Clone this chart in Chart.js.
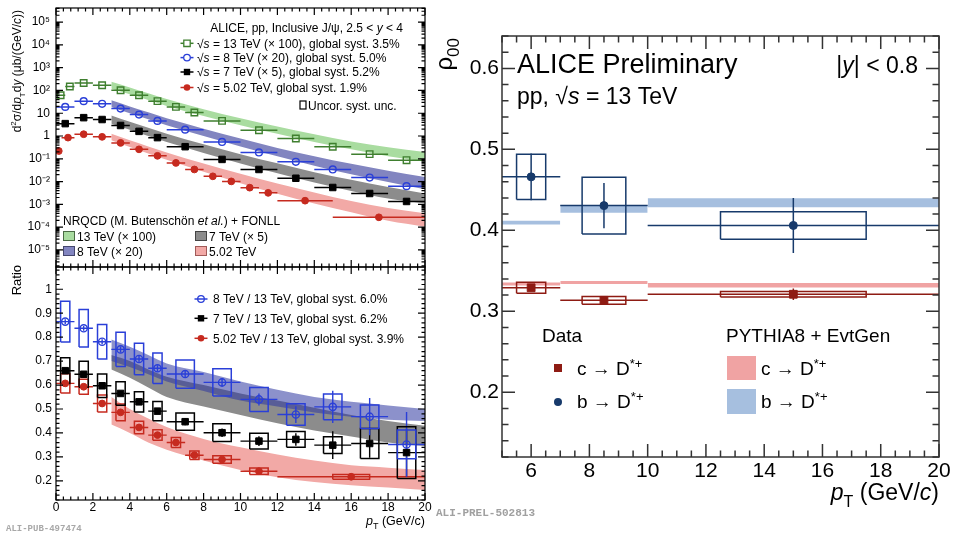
<!DOCTYPE html>
<html>
<head>
<meta charset="utf-8">
<script src="https://cdn.jsdelivr.net/npm/chart.js@4.4.1/dist/chart.umd.min.js"></script>
<style>
  html, body { margin: 0; padding: 0; background: #fff; }
  body { width: 959px; height: 534px; position: relative; overflow: hidden; }
  canvas { position: absolute; }
  #cA { left: 0; top: 0; }
  #cB { left: 0; top: 262px; }
  #cC { left: 425px; top: 0; }
</style>
</head>
<body>
<canvas id="cA" width="440" height="270"></canvas>
<canvas id="cB" width="440" height="272"></canvas>
<canvas id="cC" width="534" height="534"></canvas>
<script>
const FONT = "'Liberation Sans', Arial, Helvetica, sans-serif";

// ---------- top left: J/psi cross sections (scaled) ----------
const pt13 = [0.25, 0.75, 1.5, 2.5, 3.5, 4.5, 5.5, 6.5, 7.5, 9, 11, 13, 15, 17, 19];
const dpt13 = [0.25, 0.25, 0.5, 0.5, 0.5, 0.5, 0.5, 0.5, 0.5, 1, 1, 1, 1, 1, 1];
const xs13 = [62, 150, 213, 170, 102, 62, 34, 19, 10.7, 4.6, 1.8, 0.78, 0.34, 0.16, 0.087];
const pt8 = [0.5, 1.5, 2.5, 3.5, 4.5, 5.5, 7, 9, 11, 13, 15, 17, 19];
const dpt8 = [0.5, 0.5, 0.5, 0.5, 0.5, 0.5, 1, 1, 1, 1, 1, 1, 1];
const xs8 = [19, 34, 26, 16, 8.7, 4.6, 1.9, 0.55, 0.19, 0.074, 0.034, 0.015, 0.0063];
const xs7 = [3.5, 6.4, 5.3, 2.9, 1.6, 0.85, 0.34, 0.094, 0.034, 0.014, 0.0055, 0.003, 0.00134];
const pt5 = [0.15, 0.65, 1.5, 2.5, 3.5, 4.5, 5.5, 6.5, 7.5, 8.5, 9.5, 10.5, 11.5, 13.5, 17.5];
const dpt5 = [0.15, 0.35, 0.5, 0.5, 0.5, 0.5, 0.5, 0.5, 0.5, 0.5, 0.5, 0.5, 0.5, 1.5, 2.5];
const xs5 = [0.22, 0.85, 1.2, 0.92, 0.5, 0.26, 0.135, 0.066, 0.034, 0.017, 0.0102, 0.0054, 0.0032, 0.00145, 0.00027];

// NRQCD + FONLL bands
const bandPt = [3, 4, 5, 6, 8, 10, 12, 14, 16, 18, 20];
const nrqcd13Lo = [120, 68, 38, 21, 7.5, 3.0, 1.25, 0.55, 0.26, 0.13, 0.074];
const nrqcd13Hi = [240, 135, 75, 42, 15, 6.0, 2.6, 1.2, 0.58, 0.32, 0.2];
const nrqcd8Lo = [19, 10, 5.5, 3, 1.0, 0.35, 0.13, 0.05, 0.021, 0.0095, 0.0046];
const nrqcd8Hi = [37, 20, 11, 6, 2.1, 0.78, 0.3, 0.13, 0.06, 0.03, 0.016];
const nrqcd7Lo = [3.5, 1.9, 1.0, 0.55, 0.18, 0.062, 0.023, 0.009, 0.0039, 0.0018, 0.0011];
const nrqcd7Hi = [8, 4.2, 2.3, 1.25, 0.43, 0.16, 0.063, 0.026, 0.012, 0.0058, 0.003];
const nrqcd5Lo = [0.66, 0.33, 0.17, 0.09, 0.027, 0.0085, 0.0029, 0.0011, 0.00045, 0.00019, 0.000105];
const nrqcd5Hi = [1.26, 0.65, 0.35, 0.19, 0.062, 0.022, 0.0082, 0.0033, 0.0014, 0.0007, 0.00041];
const logTicks = [1e-5, 1e-4, 1e-3, 1e-2, 1e-1, 1, 10, 100, 1e3, 1e4, 1e5];

// ---------- bottom left: ratios to 13 TeV ----------
const rPt = [0.5, 1.5, 2.5, 3.5, 4.5, 5.5, 7, 9, 11, 13, 15, 17, 19];
const rDpt = [0.5, 0.5, 0.5, 0.5, 0.5, 0.5, 1, 1, 1, 1, 1, 1, 1];
const rBoxW = [0.25, 0.25, 0.25, 0.25, 0.25, 0.25, 0.5, 0.5, 0.5, 0.5, 0.5, 0.5, 0.5];
const r8 = [0.865, 0.837, 0.781, 0.749, 0.709, 0.670, 0.646, 0.611, 0.540, 0.477, 0.509, 0.468, 0.352];
const r8Stat = [0.01, 0.01, 0.01, 0.012, 0.012, 0.013, 0.015, 0.018, 0.025, 0.035, 0.067, 0.078, 0.135];
const r8Sys = [0.085, 0.078, 0.072, 0.071, 0.066, 0.064, 0.059, 0.057, 0.05, 0.045, 0.054, 0.049, 0.06];
const r7 = [0.66, 0.645, 0.597, 0.565, 0.53, 0.491, 0.447, 0.401, 0.366, 0.373, 0.349, 0.356, 0.318];
const r7Stat = [0.01, 0.01, 0.01, 0.01, 0.01, 0.012, 0.015, 0.018, 0.02, 0.026, 0.058, 0.06, 0.1];
const r7Sys = [0.054, 0.054, 0.049, 0.049, 0.042, 0.04, 0.036, 0.037, 0.033, 0.033, 0.035, 0.063, 0.108];
const r5Pt = [0.5, 1.5, 2.5, 3.5, 4.5, 5.5, 6.5, 7.5, 9, 11, 16];
const r5Dpt = [0.5, 0.5, 0.5, 0.5, 0.5, 0.5, 0.5, 0.5, 1, 1, 4];
const r5BoxW = [0.25, 0.25, 0.25, 0.25, 0.25, 0.25, 0.25, 0.25, 0.5, 0.5, 1];
const r5 = [0.607, 0.593, 0.523, 0.486, 0.423, 0.391, 0.36, 0.307, 0.289, 0.24, 0.217];
const r5Stat = [0.006, 0.006, 0.006, 0.006, 0.007, 0.007, 0.008, 0.008, 0.008, 0.01, 0.01];
const r5Sys = [0.04, 0.031, 0.035, 0.035, 0.026, 0.022, 0.021, 0.018, 0.016, 0.014, 0.01];
const ratio8Lo = [0.70, 0.675, 0.645, 0.615, 0.575, 0.535, 0.51, 0.485, 0.468, 0.455, 0.45];
const ratio8Hi = [0.79, 0.76, 0.725, 0.69, 0.655, 0.615, 0.58, 0.55, 0.53, 0.515, 0.50];
const ratio7Lo = [0.665, 0.63, 0.59, 0.55, 0.51, 0.475, 0.44, 0.41, 0.385, 0.36, 0.345];
const ratio7Hi = [0.725, 0.70, 0.665, 0.635, 0.60, 0.565, 0.535, 0.505, 0.475, 0.45, 0.43];
const ratio5Lo = [0.435, 0.40, 0.36, 0.33, 0.285, 0.245, 0.215, 0.195, 0.182, 0.172, 0.162];
const ratio5Hi = [0.55, 0.50, 0.46, 0.425, 0.375, 0.34, 0.31, 0.285, 0.265, 0.255, 0.245];
const ratioTicks = [0.2, 0.3, 0.4, 0.5, 0.6, 0.7, 0.8, 0.9, 1];
const ptTicks = [0, 2, 4, 6, 8, 10, 12, 14, 16, 18, 20];

// ---------- right: rho00 of D*+ ----------
const rhoPt = [6, 8.5, 15];
const rhoBinLo = [5, 7, 10];
const rhoBinHi = [7, 10, 20];
const rhoDpt = [1, 1.5, 5];
const rhoBoxW = [0.5, 0.75, 2.5];
const rhoC = [0.329, 0.3135, 0.321];
const rhoCStat = [0.004, 0.004, 0.007];
const rhoCSys = [0.0068, 0.0047, 0.0033];
const rhoB = [0.466, 0.4305, 0.406];
const rhoBStat = [0.029, 0.028, 0.034];
const rhoBSys = [0.028, 0.035, 0.017];
const pythiaCLo = [0.3318, 0.3338, 0.3294];
const pythiaCHi = [0.3355, 0.3375, 0.335];
const pythiaBLo = [0.4073, 0.4216, 0.4286];
const pythiaBHi = [0.4118, 0.4314, 0.4396];
const rhoTicks = [0.2, 0.3, 0.4, 0.5, 0.6];
const rhoPtTicks = [6, 8, 10, 12, 14, 16, 18, 20];

// colours
const C13 = '#3f7f2f', B13 = '#a9dca0';
const C8 = '#2a3fd8', B8 = '#8285c0', B8R = 'rgba(45,55,160,0.55)';
const C7 = '#000000', B7 = '#8c8c8c';
const C5 = '#c62a1f', B5 = '#f2a9a6';
const CC = '#8e1b13', CB = '#173a6b', PC = '#f0a3a3', PB = '#a6bfdf';

// ---------- helpers ----------
const gap = x => ({ x, y: null });
const pts = (xs, ys) => xs.map((x, i) => ({ x, y: ys[i] }));
function hBars(xs, ys, dx) {
  const d = [];
  xs.forEach((x, i) => d.push({ x: x - dx[i], y: ys[i] }, { x: x + dx[i], y: ys[i] }, gap(x)));
  return d;
}
function vBars(xs, ys, e) {
  const d = [];
  xs.forEach((x, i) => d.push({ x, y: ys[i] - e[i] }, { x, y: ys[i] + e[i] }, gap(x)));
  return d;
}
function boxes(xs, ys, w, h) {
  const d = [];
  xs.forEach((x, i) => {
    const y = ys[i];
    d.push({ x: x - w[i], y: y - h[i] }, { x: x + w[i], y: y - h[i] }, { x: x + w[i], y: y + h[i] },
           { x: x - w[i], y: y + h[i] }, { x: x - w[i], y: y - h[i] }, gap(x));
  });
  return d;
}
function seg(data, color, width, order) {
  return { data, borderColor: color, borderWidth: width, pointRadius: 0, fill: false,
           spanGaps: false, order, borderJoinStyle: 'miter', borderCapStyle: 'butt' };
}
function mark(data, style, r, color, open) {
  return { data, showLine: false, pointStyle: style, pointRadius: r, order: 1,
           pointBackgroundColor: open ? 'rgba(0,0,0,0)' : color,
           pointBorderColor: color, pointBorderWidth: open ? 1.4 : 1 };
}
function band(xs, lo, hi, color, order, smooth) {
  const base = { borderWidth: 0, borderColor: 'transparent', pointRadius: 0, order,
                 cubicInterpolationMode: smooth ? 'monotone' : 'default' };
  return [
    Object.assign({ data: pts(xs, lo), fill: false }, base),
    Object.assign({ data: pts(xs, hi), fill: '-1', backgroundColor: color }, base)
  ];
}

const SUP = { '-': '⁻', '0': '⁰', '1': '¹', '2': '²', '3': '³', '4': '⁴', '5': '⁵', '6': '⁶', '7': '⁷', '8': '⁸', '9': '⁹' };
function logLabel(v) {
  const e = Math.round(Math.log10(v));
  if (e === 0) return '1';
  if (e === 1) return '10';
  return '10' + String(e).split('').map(c => SUP[c]).join('');
}
const plainLabel = v => String(Math.round(v * 100) / 100);

function rich(ctx, parts, x, y, size, align, color) {
  const items = parts.map(p => (typeof p === 'string' ? { t: p } : Object.assign({}, p)));
  const fontOf = p => (p.i ? 'italic ' : '') + ((p.sub || p.sup) ? Math.round(size * 0.7) : size) + 'px ' + FONT;
  let w = 0;
  for (const p of items) { ctx.font = fontOf(p); p.w = ctx.measureText(p.t).width; w += p.w; }
  let cx = align === 'right' ? x - w : align === 'center' ? x - w / 2 : x;
  ctx.save();
  ctx.fillStyle = color || '#000';
  ctx.textAlign = 'left';
  ctx.textBaseline = 'alphabetic';
  for (const p of items) {
    ctx.font = fontOf(p);
    ctx.fillText(p.t, cx, y + (p.sub ? size * 0.3 : p.sup ? -size * 0.38 : 0));
    cx += p.w;
  }
  ctx.restore();
}
function richUp(ctx, parts, x, y, size) {
  ctx.save();
  ctx.translate(x, y);
  ctx.rotate(-Math.PI / 2);
  rich(ctx, parts, 0, 0, size, 'right');
  ctx.restore();
}
function drawMark(ctx, style, x, y, r, color, open, half, whiteFill) {
  ctx.save();
  ctx.strokeStyle = color; ctx.fillStyle = color; ctx.lineWidth = 1.5;
  if (half) { ctx.beginPath(); ctx.moveTo(x - half, y); ctx.lineTo(x + half, y); ctx.stroke(); }
  ctx.beginPath();
  if (style === 'rect') ctx.rect(x - r, y - r, 2 * r, 2 * r); else ctx.arc(x, y, r, 0, 2 * Math.PI);
  if (open) {
    if (whiteFill) { ctx.fillStyle = '#fff'; ctx.fill(); }
    ctx.lineWidth = 1.3; ctx.stroke();
  } else ctx.fill();
  ctx.restore();
}
function legendBox(ctx, x, y, w, h, fill, edge) {
  ctx.save();
  ctx.fillStyle = fill; ctx.fillRect(x, y, w, h);
  ctx.strokeStyle = edge; ctx.lineWidth = 1; ctx.strokeRect(x + 0.5, y + 0.5, w - 1, h - 1);
  ctx.restore();
}

// ROOT-like frame with inward ticks on all four sides
function tickValues(s, minor, major) {
  const out = [];
  const n0 = Math.ceil(s.min / minor - 1e-6), n1 = Math.floor(s.max / minor + 1e-6);
  for (let n = n0; n <= n1; n++) {
    const v = n * minor, k = v / major;
    out.push([v, Math.abs(k - Math.round(k)) < 1e-6]);
  }
  return out;
}
function logTickValues(s) {
  const out = [];
  for (let e = Math.floor(Math.log10(s.min)); e <= Math.ceil(Math.log10(s.max)); e++)
    for (let m = 1; m <= 9; m++) {
      const v = m * Math.pow(10, e);
      if (v >= s.min && v <= s.max) out.push([v, m === 1]);
    }
  return out;
}
const frameTicks = {
  id: 'frameTicks',
  afterDatasetsDraw(chart, args, o) {
    const { ctx, chartArea: a } = chart;
    const xs = chart.scales.x, ys = chart.scales.y;
    ctx.save();
    ctx.strokeStyle = o.color;
    ctx.lineWidth = o.width;
    ctx.beginPath();
    for (const [v, major] of tickValues(xs, o.xMinor, o.xMajor)) {
      const p = xs.getPixelForValue(v), L = major ? o.len : o.len / 2;
      ctx.moveTo(p, a.bottom); ctx.lineTo(p, a.bottom - L);
      ctx.moveTo(p, a.top); ctx.lineTo(p, a.top + L);
    }
    const yt = o.log ? logTickValues(ys) : tickValues(ys, o.yMinor, o.yMajor);
    for (const [v, major] of yt) {
      const p = ys.getPixelForValue(v), L = major ? o.len : o.len / 2;
      ctx.moveTo(a.left, p); ctx.lineTo(a.left + L, p);
      ctx.moveTo(a.right, p); ctx.lineTo(a.right - L, p);
    }
    ctx.stroke();
    ctx.strokeRect(a.left, a.top, a.right - a.left, a.bottom - a.top);
    ctx.restore();
  }
};

function baseOptions(pad) {
  return {
    responsive: false, animation: false, events: [],
    layout: { padding: pad, autoPadding: false }
  };
}
function fixedTicks(vals) { return s => { s.ticks = vals.map(v => ({ value: v })); }; }
function fitY(w) { return s => { s.width = w; s.paddingTop = 0; s.paddingBottom = 0; }; }
function fitX(h) { return s => { s.height = h; s.paddingLeft = 0; s.paddingRight = 0; }; }

// ---------- chart A: cross sections ----------
const textA = {
  id: 'textA',
  afterDraw(chart) {
    const ctx = chart.ctx;
    richUp(ctx, ['d', { t: '2', sup: 1 }, 'σ/d', { t: 'p', i: 1 }, { t: 'T', sub: 1 }, 'd', { t: 'y', i: 1 },
                 ' (μb/(GeV/', { t: 'c', i: 1 }, '))'], 21, 10, 12);
    rich(ctx, ['ALICE, pp, Inclusive J/ψ, 2.5 < ', { t: 'y', i: 1 }, ' < 4'], 403, 32, 12, 'right');
    const rows = [
      [43.3, 'rect', true, C13, ' = 13 TeV (× 100), global syst. 3.5%'],
      [57.6, 'circle', true, C8, ' = 8 TeV (× 20), global syst. 5.0%'],
      [72, 'rect', false, C7, ' = 7 TeV (× 5), global syst. 5.2%'],
      [87.5, 'circle', false, C5, ' = 5.02 TeV, global syst. 1.9%']
    ];
    for (const [y, st, open, c, txt] of rows) {
      drawMark(ctx, st, 187, y, st === 'rect' ? 3.2 : 3.3, c, open, 6.5, true);
      rich(ctx, ['√', { t: 's', i: 1 }, txt], 197, y + 4.3, 12, 'left');
    }
    ctx.save(); ctx.strokeStyle = '#000'; ctx.lineWidth = 1.2;
    ctx.strokeRect(300, 101, 6, 8); ctx.restore();
    rich(ctx, ['Uncor. syst. unc.'], 308, 109.5, 12, 'left');

    rich(ctx, ['NRQCD (M. Butenschön ', { t: 'et al.', i: 1 }, ') + FONLL'], 63, 224.5, 12, 'left');
    legendBox(ctx, 63, 231, 12, 10, B13, '#4a6a44');
    rich(ctx, ['13 TeV (× 100)'], 77, 240.5, 12, 'left');
    legendBox(ctx, 63, 246, 12, 10, B8, '#45476e');
    rich(ctx, ['8 TeV (× 20)'], 77, 255.5, 12, 'left');
    legendBox(ctx, 195, 231, 12, 10, B7, '#444');
    rich(ctx, ['7 TeV (× 5)'], 209, 240.5, 12, 'left');
    legendBox(ctx, 195, 246, 12, 10, B5, '#a05a58');
    rich(ctx, ['5.02 TeV'], 209, 255.5, 12, 'left');
  }
};

new Chart(document.getElementById('cA'), {
  type: 'line',
  data: {
    datasets: [
      ...band(bandPt, nrqcd13Lo, nrqcd13Hi, B13, 5, true),
      ...band(bandPt, nrqcd8Lo, nrqcd8Hi, B8, 5, true),
      ...band(bandPt, nrqcd7Lo, nrqcd7Hi, B7, 5, true),
      ...band(bandPt, nrqcd5Lo, nrqcd5Hi, B5, 5, true),
      seg(hBars(pt13, xs13, dpt13), C13, 1.5, 2),
      seg(hBars(pt8, xs8, dpt8), C8, 1.5, 2),
      seg(hBars(pt8, xs7, dpt8), C7, 1.5, 2),
      seg(hBars(pt5, xs5, dpt5), C5, 1.5, 2),
      mark(pts(pt13, xs13), 'rect', 4.6, C13, true),
      mark(pts(pt8, xs8), 'circle', 3.4, C8, true),
      mark(pts(pt8, xs7), 'rect', 4.6, C7, false),
      mark(pts(pt5, xs5), 'circle', 3.4, C5, false)
    ]
  },
  options: Object.assign(baseOptions({ left: 0, right: 15, top: 8, bottom: 3 }), {
    scales: {
      x: { type: 'linear', min: 0, max: 20, display: false },
      y: {
        type: 'logarithmic', min: Math.pow(10, -5.75), max: Math.pow(10, 5.62),
        afterBuildTicks: fixedTicks(logTicks),
        afterFit: fitY(56),
        grid: { display: false, drawTicks: false }, border: { display: false },
        ticks: { autoSkip: false, padding: 6, color: '#000', font: { family: FONT, size: 12 }, callback: v => logLabel(v) }
      }
    },
    plugins: {
      legend: { display: false }, tooltip: { enabled: false },
      frameTicks: { color: '#000', width: 1.2, len: 7, xMinor: 0.4, xMajor: 2, log: true }
    }
  }),
  plugins: [frameTicks, textA]
});

// ---------- chart B: ratios ----------
const textB = {
  id: 'textB',
  afterDraw(chart) {
    const ctx = chart.ctx;
    richUp(ctx, ['Ratio'], 21, 3, 13);
    const rows = [
      [37, 'circle', true, C8, '8 TeV / 13 TeV, global syst. 6.0%'],
      [56.3, 'rect', false, C7, '7 TeV / 13 TeV, global syst. 6.2%'],
      [76.3, 'circle', false, C5, '5.02 TeV / 13 TeV, global syst. 3.9%']
    ];
    for (const [y, st, open, c, txt] of rows) {
      drawMark(ctx, st, 201, y, st === 'rect' ? 3.2 : 3.3, c, open, 6.5, false);
      rich(ctx, [txt], 213, y + 4.3, 12, 'left');
    }
    rich(ctx, [{ t: 'p', i: 1 }, { t: 'T', sub: 1 }, ' (GeV/c)'], 425, 263, 12.5, 'right');
    ctx.save();
    ctx.font = 'bold 9px "Liberation Mono", "DejaVu Sans Mono", monospace';
    ctx.fillStyle = '#a8a8a8'; ctx.textBaseline = 'alphabetic';
    ctx.fillText('ALI-PUB-497474', 6, 269);
    ctx.restore();
  }
};

new Chart(document.getElementById('cB'), {
  type: 'line',
  data: {
    datasets: [
      ...band(bandPt, ratio7Lo, ratio7Hi, B7, 6, true),
      ...band(bandPt, ratio8Lo, ratio8Hi, B8R, 5, true),
      ...band(bandPt, ratio5Lo, ratio5Hi, B5, 5, true),
      seg(boxes(rPt, r8, rBoxW, r8Sys), C8, 1.5, 2),
      seg(boxes(rPt, r7, rBoxW, r7Sys), C7, 1.5, 2),
      seg(boxes(r5Pt, r5, r5BoxW, r5Sys), C5, 1.5, 2),
      seg(hBars(rPt, r8, rDpt), C8, 1.4, 2),
      seg(vBars(rPt, r8, r8Stat), C8, 1.4, 2),
      seg(hBars(rPt, r7, rDpt), C7, 1.4, 2),
      seg(vBars(rPt, r7, r7Stat), C7, 1.4, 2),
      seg(hBars(r5Pt, r5, r5Dpt), C5, 1.4, 2),
      seg(vBars(r5Pt, r5, r5Stat), C5, 1.4, 2),
      mark(pts(rPt, r8), 'circle', 3.6, C8, true),
      mark(pts(rPt, r7), 'rect', 4.6, C7, false),
      mark(pts(r5Pt, r5), 'circle', 3.4, C5, false)
    ]
  },
  options: Object.assign(baseOptions({ left: 0, right: 15, top: 5, bottom: 0 }), {
    scales: {
      x: {
        type: 'linear', min: 0, max: 20,
        afterBuildTicks: fixedTicks(ptTicks),
        afterFit: fitX(34),
        grid: { display: false, drawTicks: false }, border: { display: false },
        ticks: { autoSkip: false, maxRotation: 0, padding: 0, color: '#000', font: { family: FONT, size: 12 }, callback: plainLabel }
      },
      y: {
        type: 'linear', min: 0.12, max: 1.093,
        afterBuildTicks: fixedTicks(ratioTicks),
        afterFit: fitY(56),
        grid: { display: false, drawTicks: false }, border: { display: false },
        ticks: { autoSkip: false, padding: 4, color: '#000', font: { family: FONT, size: 12 }, callback: plainLabel }
      }
    },
    plugins: {
      legend: { display: false }, tooltip: { enabled: false },
      frameTicks: { color: '#000', width: 1.2, len: 7, xMinor: 0.4, xMajor: 2, yMinor: 0.02, yMajor: 0.1 }
    }
  }),
  plugins: [frameTicks, textB]
});

// ---------- chart C: rho00 ----------
const pythiaSets = [];
rhoPt.forEach((p, i) => {
  const xs = [rhoBinLo[i], rhoBinHi[i]];
  pythiaSets.push(...band(xs, [pythiaCLo[i], pythiaCLo[i]], [pythiaCHi[i], pythiaCHi[i]], PC, 5, false));
  pythiaSets.push(...band(xs, [pythiaBLo[i], pythiaBLo[i]], [pythiaBHi[i], pythiaBHi[i]], PB, 5, false));
});

const textC = {
  id: 'textC',
  afterDraw(chart) {
    const ctx = chart.ctx;
    richUp(ctx, ['ρ', { t: '00', sub: 1 }], 27, 38, 24);
    rich(ctx, ['ALICE Preliminary'], 92, 73, 27, 'left');
    rich(ctx, ['|', { t: 'y', i: 1 }, '| < 0.8'], 493, 73, 23, 'right');
    rich(ctx, ['pp, √', { t: 's', i: 1 }, ' = 13 TeV'], 92, 104, 23, 'left');
    rich(ctx, ['Data'], 117, 342, 19, 'left');
    drawMark(ctx, 'rect', 133, 368, 4, CC, false, 0, false);
    rich(ctx, ['c → D', { t: '*+', sup: 1 }], 152, 375, 19, 'left');
    drawMark(ctx, 'circle', 133, 402, 4, CB, false, 0, false);
    rich(ctx, ['b → D', { t: '*+', sup: 1 }], 152, 408, 19, 'left');
    rich(ctx, ['PYTHIA8 + EvtGen'], 301, 342, 19, 'left');
    ctx.save();
    ctx.fillStyle = PC; ctx.fillRect(302, 356, 29, 24);
    ctx.fillStyle = PB; ctx.fillRect(302, 389, 29, 25);
    ctx.restore();
    rich(ctx, ['c → D', { t: '*+', sup: 1 }], 336, 375, 19, 'left');
    rich(ctx, ['b → D', { t: '*+', sup: 1 }], 336, 408, 19, 'left');
    rich(ctx, [{ t: 'p', i: 1 }, { t: 'T', sub: 1 }, ' (GeV/', { t: 'c', i: 1 }, ')'], 514, 500, 23, 'right');
    ctx.save();
    ctx.font = 'bold 11px "Liberation Mono", "DejaVu Sans Mono", monospace';
    ctx.fillStyle = '#a0a0a0'; ctx.textBaseline = 'alphabetic';
    ctx.fillText('ALI-PREL-502813', 11, 516);
    ctx.restore();
  }
};

new Chart(document.getElementById('cC'), {
  type: 'line',
  data: {
    datasets: [
      ...pythiaSets,
      seg(boxes(rhoPt, rhoC, rhoBoxW, rhoCSys), CC, 1.5, 2),
      seg(hBars(rhoPt, rhoC, rhoDpt), CC, 1.5, 2),
      seg(vBars(rhoPt, rhoC, rhoCStat), CC, 1.5, 2),
      seg(boxes(rhoPt, rhoB, rhoBoxW, rhoBSys), CB, 1.5, 2),
      seg(hBars(rhoPt, rhoB, rhoDpt), CB, 1.5, 2),
      seg(vBars(rhoPt, rhoB, rhoBStat), CB, 1.5, 2),
      mark(pts(rhoPt, rhoC), 'rect', 5.5, CC, false),
      mark(pts(rhoPt, rhoB), 'circle', 4, CB, false)
    ]
  },
  options: Object.assign(baseOptions({ left: 0, right: 20, top: 36, bottom: 37 }), {
    scales: {
      x: {
        type: 'linear', min: 5, max: 20,
        afterBuildTicks: fixedTicks(rhoPtTicks),
        afterFit: fitX(40),
        grid: { display: false, drawTicks: false }, border: { display: false },
        ticks: { autoSkip: false, maxRotation: 0, padding: 2, color: '#000', font: { family: FONT, size: 21 }, callback: plainLabel }
      },
      y: {
        type: 'linear', min: 0.12, max: 0.64,
        afterBuildTicks: fixedTicks(rhoTicks),
        afterFit: fitY(77),
        grid: { display: false, drawTicks: false }, border: { display: false },
        ticks: { autoSkip: false, padding: 3, color: '#000', font: { family: FONT, size: 21 }, callback: plainLabel }
      }
    },
    plugins: {
      legend: { display: false }, tooltip: { enabled: false },
      frameTicks: { color: '#333', width: 1.5, len: 13, xMinor: 0.5, xMajor: 2, yMinor: 0.02, yMajor: 0.1 }
    }
  }),
  plugins: [frameTicks, textC]
});
</script>
</body>
</html>
